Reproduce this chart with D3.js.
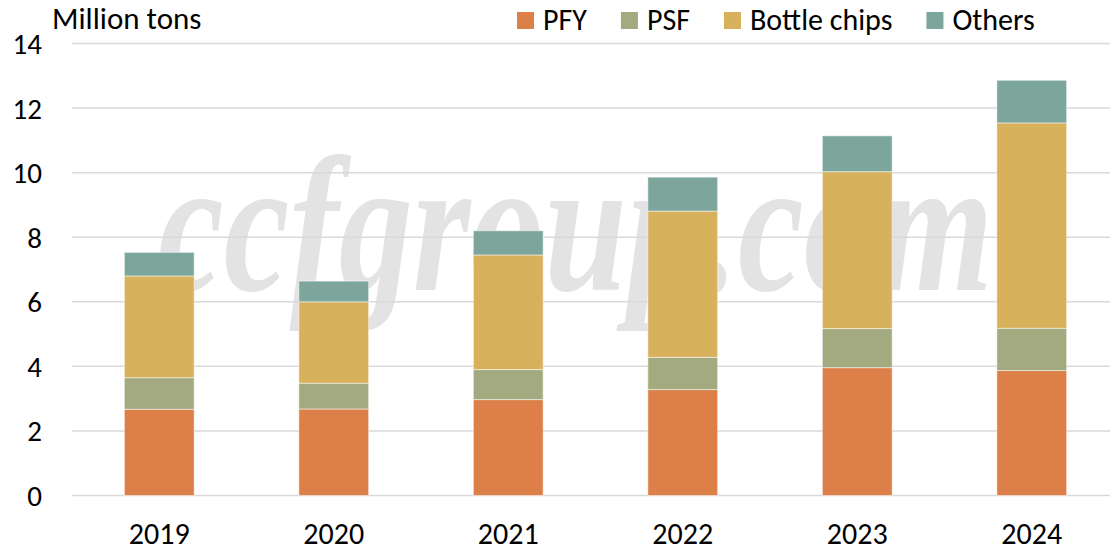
<!DOCTYPE html>
<html>
<head>
<meta charset="utf-8">
<title>Polyester capacity</title>
<style>
  body { margin: 0; background: #fff; }
  text { font-family: Calibri, Carlito, Lato, sans-serif; fill: #000; }
</style>
</head>
<body>
<svg width="1110" height="552"></svg>
<script src="https://d3js.org/d3.v7.min.js"></script>
<script>

// data (million tons)
var years = ["2019", "2020", "2021", "2022", "2023", "2024"];
var series = ["PFY", "PSF", "Bottle chips", "Others"];
var pfy = [2.67, 2.68, 2.97, 3.28, 3.96, 3.87];
var psf = [0.98, 0.80, 0.93, 1.00, 1.21, 1.31];
var bottle = [3.15, 2.52, 3.55, 4.53, 4.86, 6.36];
var others = [0.73, 0.64, 0.75, 1.05, 1.11, 1.32];
var yTicks = [0, 2, 4, 6, 8, 10, 12, 14];
var colors = ["#dd7f48", "#a4aa80", "#d8b15c", "#7ca69c"];

var svg = d3.select("svg"),
    width = +svg.attr("width"),
    height = +svg.attr("height");

var rows = years.map(function(y, i) {
  return { year: y, "PFY": pfy[i], "PSF": psf[i], "Bottle chips": bottle[i], "Others": others[i] };
});

var layers = d3.stack().keys(series)(rows);

var x = d3.scaleBand()
    .domain(years)
    .range([72, 1119])
    .paddingInner(0.6)
    .paddingOuter(0.3);

var y = d3.scaleLinear()
    .domain([0, 14])
    .range([495.5, 43.5]);

var color = d3.scaleOrdinal().domain(series).range(colors);

// watermark behind everything
svg.append("text")
    .attr("x", 158)
    .attr("y", 290)
    .attr("textLength", 835)
    .attr("lengthAdjust", "spacingAndGlyphs")
    .style("font-family", "'Liberation Serif', 'DejaVu Serif', serif")
    .style("font-style", "italic")
    .style("font-weight", "bold")
    .style("font-size", "192px")
    .style("fill", "#e3e3e3")
    .text("ccfgroup.com");

// gridlines
svg.append("g")
  .selectAll("line")
  .data(yTicks)
  .enter().append("line")
    .attr("x1", 72)
    .attr("x2", width)
    .attr("y1", function(d) { return y(d); })
    .attr("y2", function(d) { return y(d); })
    .attr("stroke", "#d9d9d9")
    .attr("stroke-width", 1.5);

// y tick labels
svg.append("g")
  .selectAll("text")
  .data(yTicks)
  .enter().append("text")
    .attr("x", 42)
    .attr("y", function(d) { return y(d); })
    .attr("dy", "0.36em")
    .attr("text-anchor", "end")
    .style("font-size", "29px")
    .text(function(d) { return d; });

// bars
svg.append("g")
  .selectAll("g")
  .data(layers)
  .enter().append("g")
    .attr("fill", function(d) { return color(d.key); })
  .selectAll("rect")
  .data(function(d) { return d; })
  .enter().append("rect")
    .attr("x", function(d) { return x(d.data.year); })
    .attr("y", function(d) { return y(d[1]); })
    .attr("width", x.bandwidth())
    .attr("height", function(d) { return y(d[0]) - y(d[1]); })
    .attr("stroke", "#fff")
    .attr("stroke-opacity", 0.5)
    .attr("stroke-width", 1);

// x labels
svg.append("g")
  .selectAll("text")
  .data(years)
  .enter().append("text")
    .attr("x", function(d) { return x(d) + x.bandwidth() / 2; })
    .attr("y", 544)
    .attr("text-anchor", "middle")
    .style("font-size", "30px")
    .text(function(d) { return d; });

// unit
svg.append("text")
    .attr("x", 52)
    .attr("y", 29)
    .style("font-size", "31px")
    .text("Million tons");

// legend
var lg = svg.append("g").attr("class", "legend");
var lx = 517;
series.forEach(function(s) {
  lg.append("rect")
      .attr("x", lx)
      .attr("y", 12)
      .attr("width", 17)
      .attr("height", 17)
      .attr("fill", color(s));
  var t = lg.append("text")
      .attr("x", lx + 26)
      .attr("y", 30)
      .style("font-size", "30px")
      .text(s);
  lx += 26 + t.node().getComputedTextLength() + 34;
});

</script>
</body>
</html>
